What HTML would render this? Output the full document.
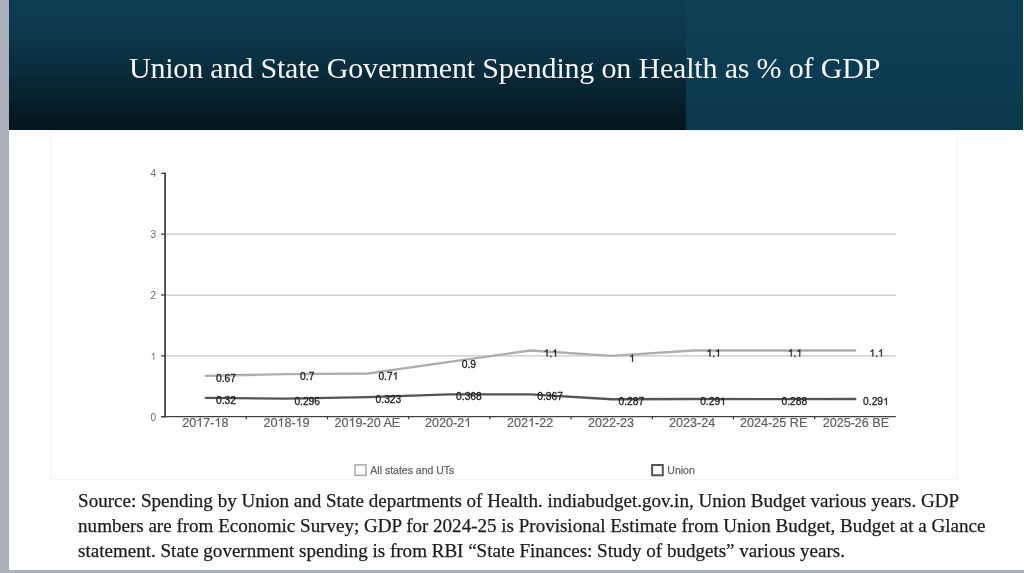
<!DOCTYPE html>
<html><head><meta charset="utf-8"><title>Union and State Government Spending on Health</title>
<style>
html,body{margin:0;padding:0;}
body{width:1024px;height:573px;overflow:hidden;background:#abafbb;position:relative;font-family:"Liberation Serif",serif;}
#slide{position:absolute;left:8.6px;top:0;width:1015.4px;height:570.2px;background:#fff;}
#hdrL{position:absolute;left:8.6px;top:0;width:677.6px;height:130px;background:linear-gradient(to bottom,#0e3d53 0%,#0d394d 22%,#0a2f40 48%,#07212e 74%,#04151d 100%);}
#hdrR{position:absolute;left:686px;top:0;width:336.6px;height:130px;background:linear-gradient(to bottom,#0e4056 0%,#0d3c52 55%,#0b374b 100%);}
#title{position:absolute;left:128.9px;top:51.0px;font-size:30px;letter-spacing:-0.18px;line-height:34px;color:#f4f6f7;white-space:nowrap;filter:blur(0.35px);}
#box{position:absolute;left:50px;top:130px;width:908px;height:349.5px;border:1px solid #f4f4f4;box-sizing:border-box;}
#src{position:absolute;left:78.1px;-webkit-text-stroke:0.25px #1c1c1c;top:489.2px;font-size:19.05px;line-height:24.7px;color:#1c1c1c;white-space:nowrap;filter:blur(0.35px);}
</style></head><body>
<div id="slide"></div>
<div id="hdrL"></div><div id="hdrR"></div>
<div id="title">Union and State Government Spending on Health as % of GDP</div>
<div id="box"></div>
<svg width="1024" height="573" viewBox="0 0 1024 573" style="position:absolute;left:0;top:0;filter:blur(0.35px)" font-family="Liberation Sans, sans-serif">
<line x1="165.1" x2="895.9" y1="355.85" y2="355.85" stroke="#c6c6c6" stroke-width="1.25"/>
<line x1="165.1" x2="895.9" y1="295.00" y2="295.00" stroke="#c6c6c6" stroke-width="1.25"/>
<line x1="165.1" x2="895.9" y1="234.15" y2="234.15" stroke="#c6c6c6" stroke-width="1.25"/>
<polyline points="205.7,375.93 286.9,374.11 368.1,373.50 449.3,361.94 530.5,350.50 611.7,355.85 692.9,350.50 774.1,350.50 855.3,350.50" fill="none" stroke="#aeaeae" stroke-width="2.3" stroke-linejoin="round" stroke-linecap="round"/>
<polyline points="205.7,397.84 286.9,398.69 368.1,397.05 449.3,394.31 530.5,394.37 611.7,399.24 692.9,398.99 774.1,399.18 855.3,398.99" fill="none" stroke="#555555" stroke-width="2.3" stroke-linejoin="round" stroke-linecap="round"/>
<line x1="165.1" x2="165.1" y1="172.80" y2="417.40" stroke="#484848" stroke-width="1.85"/>
<line x1="161.1" x2="895.9" y1="416.7" y2="416.7" stroke="#404040" stroke-width="1.25"/>
<line x1="161.1" x2="165.1" y1="416.70" y2="416.70" stroke="#3a3a3a" stroke-width="1.3"/>
<text x="150.54" y="420.70" font-size="10" fill="#6c6c6c">0</text>
<line x1="161.1" x2="165.1" y1="355.85" y2="355.85" stroke="#3a3a3a" stroke-width="1.3"/>
<path d="M763,0 L583,0 L583,-1147 Q518,-1085 412.5,-1023 Q307,-961 223,-930 L223,-1104 Q374,-1175 487,-1276 Q600,-1377 647,-1472 L763,-1472 Z" transform="translate(150.54,359.85) scale(0.00488)" fill="#6c6c6c"/>
<line x1="161.1" x2="165.1" y1="295.00" y2="295.00" stroke="#3a3a3a" stroke-width="1.3"/>
<text x="150.54" y="299.00" font-size="10" fill="#6c6c6c">2</text>
<line x1="161.1" x2="165.1" y1="234.15" y2="234.15" stroke="#3a3a3a" stroke-width="1.3"/>
<text x="150.54" y="238.15" font-size="10" fill="#6c6c6c">3</text>
<line x1="161.1" x2="165.1" y1="173.30" y2="173.30" stroke="#3a3a3a" stroke-width="1.3"/>
<text x="150.54" y="177.30" font-size="10" fill="#6c6c6c">4</text>
<line x1="246.3" x2="246.3" y1="416.7" y2="419.3" stroke="#3a3a3a" stroke-width="1.2"/>
<line x1="327.5" x2="327.5" y1="416.7" y2="419.3" stroke="#3a3a3a" stroke-width="1.2"/>
<line x1="408.7" x2="408.7" y1="416.7" y2="419.3" stroke="#3a3a3a" stroke-width="1.2"/>
<line x1="489.9" x2="489.9" y1="416.7" y2="419.3" stroke="#3a3a3a" stroke-width="1.2"/>
<line x1="571.1" x2="571.1" y1="416.7" y2="419.3" stroke="#3a3a3a" stroke-width="1.2"/>
<line x1="652.3" x2="652.3" y1="416.7" y2="419.3" stroke="#3a3a3a" stroke-width="1.2"/>
<line x1="733.5" x2="733.5" y1="416.7" y2="419.3" stroke="#3a3a3a" stroke-width="1.2"/>
<line x1="814.7" x2="814.7" y1="416.7" y2="419.3" stroke="#3a3a3a" stroke-width="1.2"/>
<text x="182.19" y="426.80" font-size="12.6" fill="#606060" stroke="#606060" stroke-width="0.2">20</text><path d="M763,0 L583,0 L583,-1147 Q518,-1085 412.5,-1023 Q307,-961 223,-930 L223,-1104 Q374,-1175 487,-1276 Q600,-1377 647,-1472 L763,-1472 Z" transform="translate(196.20,426.80) scale(0.00615)" fill="#606060" stroke="#606060" stroke-width="32.5"/><text x="203.20" y="426.80" font-size="12.6" fill="#606060" stroke="#606060" stroke-width="0.2">7-</text><path d="M763,0 L583,0 L583,-1147 Q518,-1085 412.5,-1023 Q307,-961 223,-930 L223,-1104 Q374,-1175 487,-1276 Q600,-1377 647,-1472 L763,-1472 Z" transform="translate(214.40,426.80) scale(0.00615)" fill="#606060" stroke="#606060" stroke-width="32.5"/><text x="221.41" y="426.80" font-size="12.6" fill="#606060" stroke="#606060" stroke-width="0.2">8</text>
<text x="263.39" y="426.80" font-size="12.6" fill="#606060" stroke="#606060" stroke-width="0.2">20</text><path d="M763,0 L583,0 L583,-1147 Q518,-1085 412.5,-1023 Q307,-961 223,-930 L223,-1104 Q374,-1175 487,-1276 Q600,-1377 647,-1472 L763,-1472 Z" transform="translate(277.40,426.80) scale(0.00615)" fill="#606060" stroke="#606060" stroke-width="32.5"/><text x="284.40" y="426.80" font-size="12.6" fill="#606060" stroke="#606060" stroke-width="0.2">8-</text><path d="M763,0 L583,0 L583,-1147 Q518,-1085 412.5,-1023 Q307,-961 223,-930 L223,-1104 Q374,-1175 487,-1276 Q600,-1377 647,-1472 L763,-1472 Z" transform="translate(295.60,426.80) scale(0.00615)" fill="#606060" stroke="#606060" stroke-width="32.5"/><text x="302.61" y="426.80" font-size="12.6" fill="#606060" stroke="#606060" stroke-width="0.2">9</text>
<text x="334.43" y="426.80" font-size="12.6" fill="#606060" stroke="#606060" stroke-width="0.2">20</text><path d="M763,0 L583,0 L583,-1147 Q518,-1085 412.5,-1023 Q307,-961 223,-930 L223,-1104 Q374,-1175 487,-1276 Q600,-1377 647,-1472 L763,-1472 Z" transform="translate(348.44,426.80) scale(0.00615)" fill="#606060" stroke="#606060" stroke-width="32.5"/><text x="355.45" y="426.80" font-size="12.6" fill="#606060" stroke="#606060" stroke-width="0.2">9-20 AE</text>
<text x="424.99" y="426.80" font-size="12.6" fill="#606060" stroke="#606060" stroke-width="0.2">2020-2</text><path d="M763,0 L583,0 L583,-1147 Q518,-1085 412.5,-1023 Q307,-961 223,-930 L223,-1104 Q374,-1175 487,-1276 Q600,-1377 647,-1472 L763,-1472 Z" transform="translate(464.21,426.80) scale(0.00615)" fill="#606060" stroke="#606060" stroke-width="32.5"/>
<text x="506.99" y="426.80" font-size="12.6" fill="#606060" stroke="#606060" stroke-width="0.2">202</text><path d="M763,0 L583,0 L583,-1147 Q518,-1085 412.5,-1023 Q307,-961 223,-930 L223,-1104 Q374,-1175 487,-1276 Q600,-1377 647,-1472 L763,-1472 Z" transform="translate(528.00,426.80) scale(0.00615)" fill="#606060" stroke="#606060" stroke-width="32.5"/><text x="535.01" y="426.80" font-size="12.6" fill="#606060" stroke="#606060" stroke-width="0.2">-22</text>
<text x="587.89" y="426.80" font-size="12.6" fill="#606060" stroke="#606060" stroke-width="0.2">2022-23</text>
<text x="669.09" y="426.80" font-size="12.6" fill="#606060" stroke="#606060" stroke-width="0.2">2023-24</text>
<text x="740.08" y="426.80" font-size="12.6" fill="#606060" stroke="#606060" stroke-width="0.2">2024-25 RE</text>
<text x="822.63" y="426.80" font-size="12.6" fill="#606060" stroke="#606060" stroke-width="0.2">2025-26 BE</text>
<text x="216.03" y="381.93" font-size="10.25" fill="#222" stroke="#222" stroke-width="0.3">0.67</text>
<text x="300.08" y="380.11" font-size="10.25" fill="#222" stroke="#222" stroke-width="0.3">0.7</text>
<text x="378.43" y="379.50" font-size="10.25" fill="#222" stroke="#222" stroke-width="0.3">0.7</text><path d="M763,0 L583,0 L583,-1147 Q518,-1085 412.5,-1023 Q307,-961 223,-930 L223,-1104 Q374,-1175 487,-1276 Q600,-1377 647,-1472 L763,-1472 Z" transform="translate(392.67,379.50) scale(0.00500)" fill="#222" stroke="#222" stroke-width="59.9"/>
<text x="461.78" y="367.94" font-size="10.25" fill="#222" stroke="#222" stroke-width="0.3">0.9</text>
<path d="M763,0 L583,0 L583,-1147 Q518,-1085 412.5,-1023 Q307,-961 223,-930 L223,-1104 Q374,-1175 487,-1276 Q600,-1377 647,-1472 L763,-1472 Z" transform="translate(543.68,356.50) scale(0.00500)" fill="#222" stroke="#222" stroke-width="59.9"/><text x="549.38" y="356.50" font-size="10.25" fill="#222" stroke="#222" stroke-width="0.3">.</text><path d="M763,0 L583,0 L583,-1147 Q518,-1085 412.5,-1023 Q307,-961 223,-930 L223,-1104 Q374,-1175 487,-1276 Q600,-1377 647,-1472 L763,-1472 Z" transform="translate(552.22,356.50) scale(0.00500)" fill="#222" stroke="#222" stroke-width="59.9"/>
<path d="M763,0 L583,0 L583,-1147 Q518,-1085 412.5,-1023 Q307,-961 223,-930 L223,-1104 Q374,-1175 487,-1276 Q600,-1377 647,-1472 L763,-1472 Z" transform="translate(629.15,361.85) scale(0.00500)" fill="#222" stroke="#222" stroke-width="59.9"/>
<path d="M763,0 L583,0 L583,-1147 Q518,-1085 412.5,-1023 Q307,-961 223,-930 L223,-1104 Q374,-1175 487,-1276 Q600,-1377 647,-1472 L763,-1472 Z" transform="translate(706.58,356.50) scale(0.00500)" fill="#222" stroke="#222" stroke-width="59.9"/><text x="712.28" y="356.50" font-size="10.25" fill="#222" stroke="#222" stroke-width="0.3">.</text><path d="M763,0 L583,0 L583,-1147 Q518,-1085 412.5,-1023 Q307,-961 223,-930 L223,-1104 Q374,-1175 487,-1276 Q600,-1377 647,-1472 L763,-1472 Z" transform="translate(715.12,356.50) scale(0.00500)" fill="#222" stroke="#222" stroke-width="59.9"/>
<path d="M763,0 L583,0 L583,-1147 Q518,-1085 412.5,-1023 Q307,-961 223,-930 L223,-1104 Q374,-1175 487,-1276 Q600,-1377 647,-1472 L763,-1472 Z" transform="translate(787.88,356.50) scale(0.00500)" fill="#222" stroke="#222" stroke-width="59.9"/><text x="793.58" y="356.50" font-size="10.25" fill="#222" stroke="#222" stroke-width="0.3">.</text><path d="M763,0 L583,0 L583,-1147 Q518,-1085 412.5,-1023 Q307,-961 223,-930 L223,-1104 Q374,-1175 487,-1276 Q600,-1377 647,-1472 L763,-1472 Z" transform="translate(796.42,356.50) scale(0.00500)" fill="#222" stroke="#222" stroke-width="59.9"/>
<path d="M763,0 L583,0 L583,-1147 Q518,-1085 412.5,-1023 Q307,-961 223,-930 L223,-1104 Q374,-1175 487,-1276 Q600,-1377 647,-1472 L763,-1472 Z" transform="translate(869.48,356.50) scale(0.00500)" fill="#222" stroke="#222" stroke-width="59.9"/><text x="875.18" y="356.50" font-size="10.25" fill="#222" stroke="#222" stroke-width="0.3">.</text><path d="M763,0 L583,0 L583,-1147 Q518,-1085 412.5,-1023 Q307,-961 223,-930 L223,-1104 Q374,-1175 487,-1276 Q600,-1377 647,-1472 L763,-1472 Z" transform="translate(878.02,356.50) scale(0.00500)" fill="#222" stroke="#222" stroke-width="59.9"/>
<text x="216.03" y="403.84" font-size="10.25" fill="#222" stroke="#222" stroke-width="0.3">0.32</text>
<text x="294.38" y="404.69" font-size="10.25" fill="#222" stroke="#222" stroke-width="0.3">0.296</text>
<text x="375.58" y="403.05" font-size="10.25" fill="#222" stroke="#222" stroke-width="0.3">0.323</text>
<text x="456.08" y="400.31" font-size="10.25" fill="#222" stroke="#222" stroke-width="0.3">0.368</text>
<text x="537.28" y="400.37" font-size="10.25" fill="#222" stroke="#222" stroke-width="0.3">0.367</text>
<text x="618.48" y="405.24" font-size="10.25" fill="#222" stroke="#222" stroke-width="0.3">0.287</text>
<text x="700.18" y="404.99" font-size="10.25" fill="#222" stroke="#222" stroke-width="0.3">0.29</text><path d="M763,0 L583,0 L583,-1147 Q518,-1085 412.5,-1023 Q307,-961 223,-930 L223,-1104 Q374,-1175 487,-1276 Q600,-1377 647,-1472 L763,-1472 Z" transform="translate(720.12,404.99) scale(0.00500)" fill="#222" stroke="#222" stroke-width="59.9"/>
<text x="781.48" y="405.18" font-size="10.25" fill="#222" stroke="#222" stroke-width="0.3">0.288</text>
<text x="863.08" y="404.99" font-size="10.25" fill="#222" stroke="#222" stroke-width="0.3">0.29</text><path d="M763,0 L583,0 L583,-1147 Q518,-1085 412.5,-1023 Q307,-961 223,-930 L223,-1104 Q374,-1175 487,-1276 Q600,-1377 647,-1472 L763,-1472 Z" transform="translate(883.02,404.99) scale(0.00500)" fill="#222" stroke="#222" stroke-width="59.9"/>
<rect x="355" y="464.9" width="11" height="10.5" fill="#fff" stroke="#adadad" stroke-width="1.6"/>
<text x="370.3" y="474" font-size="10.5" fill="#666" stroke="#666" stroke-width="0.25">All states and UTs</text>
<rect x="652.1" y="465.0" width="10.7" height="10.3" fill="#fff" stroke="#555" stroke-width="2.0"/>
<text x="667.3" y="474" font-size="10.5" fill="#666" stroke="#666" stroke-width="0.25">Union</text>
</svg>
<div id="src">Source: Spending by Union and State departments of Health. indiabudget.gov.in, Union Budget various years. GDP<br>numbers are from Economic Survey; GDP for 2024-25 is Provisional Estimate from Union Budget, Budget at a Glance<br>statement. State government spending is from RBI “State Finances: Study of budgets” various years.</div>
</body></html>
